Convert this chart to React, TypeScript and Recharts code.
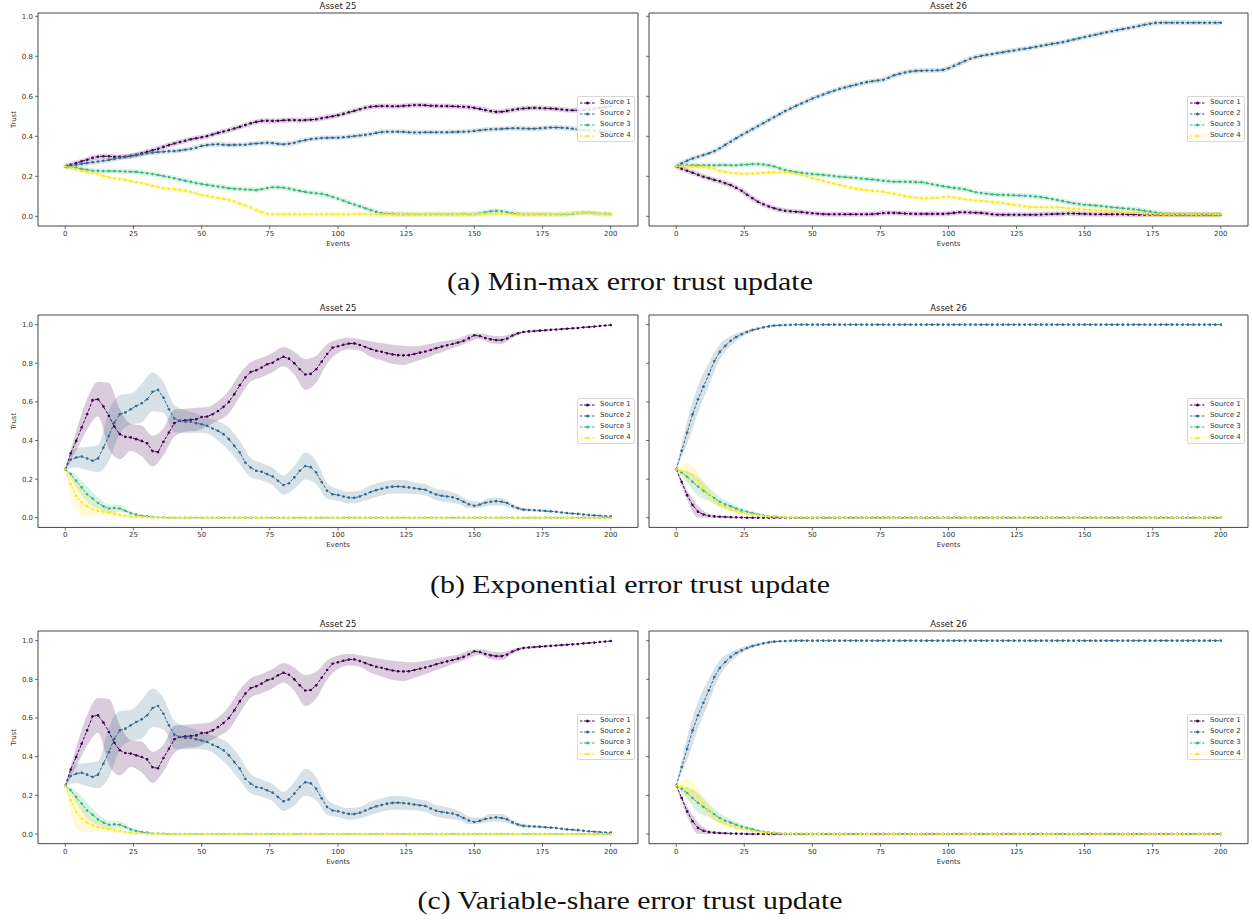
import React from 'react';
import { ComposedChart, Line, Area, XAxis, YAxis, ReferenceArea, Legend } from 'recharts';

const SOURCES = ['Source 1', 'Source 2', 'Source 3', 'Source 4'];
const COLORS = ['#440154', '#31688e', '#35b779', '#fde725'];
const X_TICKS = [0, 25, 50, 75, 100, 125, 150, 175, 200];
const Y_TICKS = [0, 0.2, 0.4, 0.6, 0.8, 1.0];
const STEP = 2; // events between stored line points
const BAND_STEP = 4; // events between stored band half-widths
const CAPTIONS = [
  '(a) Min-max error trust update',
  '(b) Exponential error trust update',
  '(c) Variable-share error trust update',
];

// ---- (a) Min-max, values in thousandths, events 0,2,...,200 ----
const MM_A25_S1 = [
  250, 258, 266, 275, 283, 292, 298, 300, 300, 298,
  297, 298, 302, 308, 315, 322, 330, 338, 347, 356,
  364, 371, 378, 385, 390, 395, 401, 409, 417, 424,
  431, 439, 447, 456, 465, 472, 477, 478, 477, 478,
  480, 481, 481, 480, 481, 483, 485, 490, 495, 500,
  505, 512, 520, 527, 535, 543, 548, 550, 551, 551,
  550, 550, 552, 554, 556, 556, 555, 553, 552, 551,
  551, 550, 549, 548, 546, 542, 537, 531, 526, 522,
  523, 527, 532, 536, 539, 541, 542, 541, 540, 539,
  537, 534, 531, 530, 530, 531, 534, 538, 543, 547,
  550,
];
const MM_A25_S2 = [
  250, 254, 258, 262, 266, 270, 274, 278, 282, 287,
  293, 297, 301, 305, 310, 315, 318, 321, 323, 325,
  326, 329, 333, 337, 343, 352, 356, 359, 360, 358,
  356, 357, 358, 358, 362, 364, 366, 368, 366, 362,
  360, 363, 368, 375, 381, 386, 389, 391, 392, 393,
  393, 395, 398, 401, 404, 407, 411, 417, 421, 423,
  423, 423, 422, 420, 419, 419, 420, 420, 420, 420,
  420, 421, 422, 423, 424, 427, 430, 433, 435, 436,
  437, 439, 440, 440, 439, 438, 438, 440, 442, 444,
  444, 443, 441, 438, 434, 431, 429, 428, 427, 426,
  426,
];
const MM_A25_S3 = [
  250, 246, 242, 237, 233, 228, 227, 226, 226, 226,
  225, 224, 223, 222, 219, 215, 211, 206, 201, 196,
  190, 184, 178, 172, 166, 161, 157, 153, 149, 145,
  140, 138, 136, 134, 133, 131, 135, 141, 145, 145,
  143, 139, 132, 127, 122, 118, 115, 112, 106, 97,
  88, 78, 68, 59, 50, 40, 31, 22, 16, 13,
  12, 11, 10, 10, 10, 10, 10, 10, 10, 10,
  10, 10, 10, 11, 10, 11, 15, 20, 25, 27,
  25, 20, 15, 12, 10, 10, 10, 10, 10, 10,
  10, 10, 11, 13, 16, 18, 18, 16, 13, 12,
  11,
];
const MM_A25_S4 = [
  250, 243, 235, 228, 222, 218, 210, 202, 195, 190,
  186, 181, 176, 170, 165, 160, 153, 146, 141, 138,
  135, 132, 128, 122, 114, 106, 102, 97, 92, 87,
  82, 74, 64, 54, 43, 32, 20, 12, 10, 10,
  10, 10, 10, 10, 10, 10, 10, 10, 10, 10,
  10, 10, 10, 11, 11, 11, 10, 10, 10, 10,
  10, 10, 10, 10, 10, 10, 10, 10, 10, 10,
  10, 10, 10, 10, 11, 12, 12, 12, 12, 12,
  12, 11, 10, 10, 10, 10, 10, 10, 10, 10,
  10, 11, 13, 16, 18, 18, 17, 15, 12, 11,
  10,
];
const MM_A26_S1 = [
  250, 238, 228, 218, 208, 198, 190, 182, 175, 165,
  156, 143, 128, 108, 90, 73, 60, 49, 40, 33,
  28, 25, 23, 21, 18, 15, 13, 11, 10, 10,
  10, 10, 10, 10, 10, 10, 11, 13, 16, 17,
  17, 16, 14, 13, 12, 12, 12, 12, 12, 12,
  14, 17, 20, 20, 19, 18, 17, 14, 10, 8,
  8, 8, 8, 8, 8, 8, 8, 9, 10, 11,
  12, 13, 14, 14, 13, 12, 11, 10, 10, 10,
  10, 10, 10, 9, 9, 8, 8, 8, 8, 8,
  8, 8, 8, 8, 8, 8, 8, 8, 8, 8,
  8,
];
const MM_A26_S2 = [
  250, 265, 278, 289, 298, 306, 315, 326, 340, 357,
  373, 390, 406, 421, 436, 451, 466, 481, 496, 511,
  526, 539, 552, 564, 576, 589, 599, 609, 619, 628,
  637, 644, 651, 658, 665, 671, 675, 679, 683, 693,
  705, 712, 719, 724, 727, 728, 729, 729, 730, 732,
  740, 752, 764, 776, 788, 796, 802, 807, 811, 816,
  820, 825, 829, 834, 838, 842, 847, 852, 857, 862,
  866, 871, 877, 884, 890, 896, 902, 908, 914, 920,
  925, 931, 936, 941, 946, 952, 958, 963, 967, 968,
  968, 968, 968, 968, 968, 968, 968, 968, 968, 968,
  968,
];
const MM_A26_S3 = [
  250, 253, 255, 255, 255, 255, 255, 255, 256, 256,
  255, 255, 257, 259, 261, 261, 259, 255, 249, 240,
  231, 226, 221, 217, 214, 211, 209, 207, 204, 201,
  198, 196, 194, 192, 189, 186, 184, 181, 178, 175,
  173, 173, 173, 172, 171, 170, 166, 160, 155, 150,
  146, 142, 139, 135, 128, 120, 116, 113, 110, 108,
  107, 106, 105, 104, 103, 101, 99, 96, 92, 86,
  81, 76, 70, 65, 61, 58, 56, 54, 51, 48,
  45, 43, 40, 38, 35, 32, 28, 24, 19, 14,
  11, 10, 10, 10, 10, 10, 10, 10, 10, 10,
  10,
];
const MM_A26_S4 = [
  250, 251, 250, 249, 248, 248, 243, 236, 228, 222,
  218, 215, 213, 213, 214, 215, 217, 219, 220, 220,
  220, 218, 213, 208, 200, 190, 184, 177, 170, 163,
  156, 150, 144, 138, 134, 130, 127, 125, 122, 118,
  113, 108, 102, 97, 93, 90, 90, 91, 93, 96,
  98, 94, 89, 84, 81, 79, 77, 75, 72, 69,
  66, 62, 58, 54, 50, 47, 45, 45, 45, 45,
  45, 43, 40, 38, 36, 34, 32, 30, 29, 27,
  26, 24, 21, 19, 17, 15, 13, 11, 10, 10,
  10, 10, 10, 10, 10, 10, 10, 10, 10, 10,
  10,
];

// ---- (b) Exponential, values in thousandths, events 0,2,...,200 ----
const EXP_A25_S1 = [
  250, 334, 398, 467, 536, 609, 614, 576, 528, 472,
  433, 419, 416, 407, 398, 386, 345, 340, 393, 441,
  490, 502, 505, 507, 510, 522, 524, 536, 553, 574,
  600, 640, 686, 726, 755, 764, 778, 795, 803, 821,
  834, 824, 800, 769, 742, 745, 769, 808, 848, 881,
  888, 896, 902, 903, 895, 884, 874, 865, 860, 852,
  846, 842, 841, 842, 848, 855, 861, 869, 878, 886,
  893, 900, 907, 916, 930, 945, 941, 931, 924, 920,
  920, 928, 944, 955, 962, 965, 967, 969, 971, 973,
  975, 977, 979, 981, 983, 986, 988, 990, 993, 996,
  998,
];
const EXP_A25_S2 = [
  250, 300, 312, 317, 307, 295, 307, 364, 424, 493,
  536, 545, 562, 579, 593, 614, 652, 662, 622, 562,
  514, 502, 497, 497, 490, 484, 476, 462, 450, 433,
  407, 372, 338, 286, 260, 243, 238, 226, 214, 191,
  169, 179, 209, 243, 268, 262, 234, 185, 140, 122,
  118, 110, 104, 103, 110, 122, 133, 143, 150, 157,
  161, 162, 160, 157, 153, 149, 145, 132, 120, 114,
  110, 106, 97, 83, 70, 62, 68, 78, 83, 86,
  83, 76, 60, 49, 42, 40, 39, 37, 35, 33,
  31, 27, 24, 22, 20, 17, 14, 12, 10, 8,
  7,
];
const EXP_A25_S3 = [
  250, 226, 191, 157, 122, 100, 76, 59, 48, 50,
  48, 36, 24, 16, 10, 7, 3, 2, 1, 0,
  0, 0, 0, 0, 0, 0, 0, 0, 0, 0,
  0, 0, 0, 0, 0, 0, 0, 0, 0, 0,
  0, 0, 0, 0, 0, 0, 0, 0, 0, 0,
  0, 0, 0, 0, 0, 0, 0, 0, 0, 0,
  0, 0, 0, 0, 0, 0, 0, 0, 0, 0,
  0, 0, 0, 0, 0, 0, 0, 0, 0, 0,
  0, 0, 0, 0, 0, 0, 0, 0, 0, 0,
  0, 0, 0, 0, 0, 0, 0, 0, 0, 0,
  0,
];
const EXP_A25_S4 = [
  250, 174, 114, 79, 59, 45, 36, 31, 26, 21,
  14, 10, 6, 4, 3, 2, 1, 1, 0, 0,
  0, 0, 0, 0, 0, 0, 0, 0, 0, 0,
  0, 0, 0, 0, 0, 0, 0, 0, 0, 0,
  0, 0, 0, 0, 0, 0, 0, 0, 0, 0,
  0, 0, 0, 0, 0, 0, 0, 0, 0, 0,
  0, 0, 0, 0, 0, 0, 0, 0, 0, 0,
  0, 0, 0, 0, 0, 0, 0, 0, 0, 0,
  0, 0, 0, 0, 0, 0, 0, 0, 0, 0,
  0, 0, 0, 0, 0, 0, 0, 0, 0, 0,
  0,
];
// band half-widths, thousandths, events 0,4,...,200
const EXP_A25_B1 = [
  0, 50, 80, 90, 170, 130, 70, 80, 80, 70,
  70, 60, 60, 50, 50, 60, 60, 50, 50, 50,
  50, 60, 80, 70, 50, 35, 30, 30, 40, 45,
  50, 50, 40, 35, 30, 25, 20, 20, 15, 20,
  20, 12, 8, 6, 5, 4, 3, 3, 2, 2,
  2,
];
const EXP_A25_B2 = [
  0, 50, 60, 70, 130, 100, 80, 100, 100, 80,
  70, 60, 50, 40, 50, 60, 60, 50, 45, 45,
  50, 60, 70, 60, 40, 30, 30, 30, 35, 35,
  35, 35, 30, 30, 30, 30, 25, 20, 15, 20,
  20, 12, 8, 6, 5, 4, 3, 3, 2, 2,
  2,
];
const EXP_A25_B3 = [
  0, 30, 40, 30, 20, 18, 10, 6, 3, 2,
  1, 0, 0, 0, 0, 0, 0, 0, 0, 0,
  0, 0, 0, 0, 0, 0, 0, 0, 0, 0,
  0, 0, 0, 0, 0, 0, 0, 0, 0, 0,
  0, 0, 0, 0, 0, 0, 0, 0, 0, 0,
  0,
];
const EXP_A25_B4 = [
  0, 80, 50, 25, 15, 10, 6, 3, 1, 1,
  0, 0, 0, 0, 0, 0, 0, 0, 0, 0,
  0, 0, 0, 0, 0, 0, 0, 0, 0, 0,
  0, 0, 0, 0, 0, 0, 0, 0, 0, 0,
  0, 0, 0, 0, 0, 0, 0, 0, 0, 0,
  0,
];
const EXP_A26_S1 = [
  250, 186, 117, 66, 31, 17, 10, 7, 5, 4,
  3, 2, 1, 0, 0, 0, 0, 0, 0, 0,
  0, 0, 0, 0, 0, 0, 0, 0, 0, 0,
  0, 0, 0, 0, 0, 0, 0, 0, 0, 0,
  0, 0, 0, 0, 0, 0, 0, 0, 0, 0,
  0, 0, 0, 0, 0, 0, 0, 0, 0, 0,
  0, 0, 0, 0, 0, 0, 0, 0, 0, 0,
  0, 0, 0, 0, 0, 0, 0, 0, 0, 0,
  0, 0, 0, 0, 0, 0, 0, 0, 0, 0,
  0, 0, 0, 0, 0, 0, 0, 0, 0, 0,
  0,
];
const EXP_A26_S2 = [
  250, 347, 441, 536, 614, 679, 743, 812, 859, 890,
  916, 936, 950, 962, 972, 979, 986, 991, 995, 997,
  998, 999, 1000, 1000, 1000, 1000, 1000, 1000, 1000, 1000,
  1000, 1000, 1000, 1000, 1000, 1000, 1000, 1000, 1000, 1000,
  1000, 1000, 1000, 1000, 1000, 1000, 1000, 1000, 1000, 1000,
  1000, 1000, 1000, 1000, 1000, 1000, 1000, 1000, 1000, 1000,
  1000, 1000, 1000, 1000, 1000, 1000, 1000, 1000, 1000, 1000,
  1000, 1000, 1000, 1000, 1000, 1000, 1000, 1000, 1000, 1000,
  1000, 1000, 1000, 1000, 1000, 1000, 1000, 1000, 1000, 1000,
  1000, 1000, 1000, 1000, 1000, 1000, 1000, 1000, 1000, 1000,
  1000,
];
const EXP_A26_S3 = [
  250, 234, 212, 186, 162, 140, 122, 102, 83, 69,
  59, 48, 38, 31, 24, 17, 12, 9, 6, 4,
  2, 1, 0, 0, 0, 0, 0, 0, 0, 0,
  0, 0, 0, 0, 0, 0, 0, 0, 0, 0,
  0, 0, 0, 0, 0, 0, 0, 0, 0, 0,
  0, 0, 0, 0, 0, 0, 0, 0, 0, 0,
  0, 0, 0, 0, 0, 0, 0, 0, 0, 0,
  0, 0, 0, 0, 0, 0, 0, 0, 0, 0,
  0, 0, 0, 0, 0, 0, 0, 0, 0, 0,
  0, 0, 0, 0, 0, 0, 0, 0, 0, 0,
  0,
];
const EXP_A26_S4 = [
  250, 243, 234, 221, 191, 157, 122, 91, 67, 53,
  41, 33, 26, 21, 16, 12, 9, 7, 5, 4,
  3, 2, 2, 2, 2, 1, 1, 1, 1, 1,
  1, 0, 0, 0, 0, 0, 0, 0, 0, 0,
  0, 0, 0, 0, 0, 0, 0, 0, 0, 0,
  0, 0, 0, 0, 0, 0, 0, 0, 0, 0,
  0, 0, 0, 0, 0, 0, 0, 0, 0, 0,
  0, 0, 0, 0, 0, 0, 0, 0, 0, 0,
  0, 0, 0, 0, 0, 0, 0, 0, 0, 0,
  0, 0, 0, 0, 0, 0, 0, 0, 0, 0,
  0,
];
const EXP_A26_B1 = [
  0, 25, 30, 10, 5, 2, 1, 0, 0, 0,
  0, 0, 0, 0, 0, 0, 0, 0, 0, 0,
  0, 0, 0, 0, 0, 0, 0, 0, 0, 0,
  0, 0, 0, 0, 0, 0, 0, 0, 0, 0,
  0, 0, 0, 0, 0, 0, 0, 0, 0, 0,
  0,
];
const EXP_A26_B2 = [
  0, 60, 70, 60, 40, 25, 15, 10, 6, 4,
  2, 0, 0, 0, 0, 0, 0, 0, 0, 0,
  0, 0, 0, 0, 0, 0, 0, 0, 0, 0,
  0, 0, 0, 0, 0, 0, 0, 0, 0, 0,
  0, 0, 0, 0, 0, 0, 0, 0, 0, 0,
  0,
];
const EXP_A26_B3 = [
  0, 30, 50, 35, 25, 18, 12, 8, 5, 3,
  2, 0, 0, 0, 0, 0, 0, 0, 0, 0,
  0, 0, 0, 0, 0, 0, 0, 0, 0, 0,
  0, 0, 0, 0, 0, 0, 0, 0, 0, 0,
  0, 0, 0, 0, 0, 0, 0, 0, 0, 0,
  0,
];
const EXP_A26_B4 = [
  0, 50, 40, 30, 15, 10, 6, 4, 3, 2,
  1, 1, 0, 0, 0, 0, 0, 0, 0, 0,
  0, 0, 0, 0, 0, 0, 0, 0, 0, 0,
  0, 0, 0, 0, 0, 0, 0, 0, 0, 0,
  0, 0, 0, 0, 0, 0, 0, 0, 0, 0,
  0,
];

// ---- (c) Variable-share: read as identical to (b) ----
const VS_A25_S = [EXP_A25_S1, EXP_A25_S2, EXP_A25_S3, EXP_A25_S4];
const VS_A25_B = [EXP_A25_B1, EXP_A25_B2, EXP_A25_B3, EXP_A25_B4];
const VS_A26_S = [EXP_A26_S1, EXP_A26_S2, EXP_A26_S3, EXP_A26_S4];
const VS_A26_B = [EXP_A26_B1, EXP_A26_B2, EXP_A26_B3, EXP_A26_B4];

const FONT = 'DejaVu Sans';
const TEXT = '#333';
const FRAME = '#444';

function buildRows(series: number[][], bands?: number[][]) {
  const n = series[0].length;
  const rows: any[] = [];
  for (let i = 0; i < n; i++) {
    const e = i * STEP;
    const row: any = { e };
    series.forEach((s, k) => {
      row['s' + k] = s[i] / 1000;
    });
    if (bands && e % BAND_STEP === 0) {
      const j = e / BAND_STEP;
      bands.forEach((b, k) => {
        const m = series[k][i] / 1000;
        const h = b[j] / 1000;
        row['b' + k] = [Math.max(0, m - h), Math.min(1, m + h)];
      });
    }
    rows.push(row);
  }
  return rows;
}

function LegendBox() {
  return (
    <div
      style={{
        boxSizing: 'border-box',
        width: 58,
        height: 46,
        border: '1px solid #d8d8d8',
        borderRadius: 2,
        background: 'rgba(255,255,255,0.85)',
        padding: '0.5px 0 0 2px',
        fontFamily: FONT,
        fontSize: 7,
        color: TEXT,
      }}
    >
      {SOURCES.map((s, k) => (
        <div key={s} style={{ display: 'flex', alignItems: 'center', height: 11, lineHeight: '11px' }}>
          <svg width={15} height={6} style={{ marginRight: 5, display: 'block' }}>
            <line x1={0} y1={3} x2={15} y2={3} stroke={COLORS[k]} strokeWidth={1} strokeDasharray="2.5 1.5" />
            <circle cx={7.5} cy={3} r={1.5} fill={COLORS[k]} />
          </svg>
          <span style={{ whiteSpace: 'nowrap' }}>{s}</span>
        </div>
      ))}
    </div>
  );
}

type PanelProps = {
  frameLeft: number;
  frameTop: number;
  plotW: number;
  plotH: number;
  yDomain: [number, number];
  title: string;
  rows: any[];
  bands: boolean;
  showY: boolean;
};

function Panel({ frameLeft, frameTop, plotW, plotH, yDomain, title, rows, bands, showY }: PanelProps) {
  const mt = 12;
  const hX = 24;
  const wY = showY ? 38 : 10;
  const mr = 2;
  const W = wY + plotW + mr;
  const H = mt + plotH + hX;
  const tickStyle = { fontSize: 7, fill: TEXT, fontFamily: FONT };
  return (
    <div style={{ position: 'absolute', left: frameLeft - wY, top: frameTop - mt }}>
      <ComposedChart width={W} height={H} data={rows} margin={{ top: mt, right: mr, bottom: 0, left: 0 }}>
        <XAxis
          dataKey="e"
          type="number"
          domain={[-10, 210]}
          ticks={X_TICKS}
          interval={0}
          allowDataOverflow
          axisLine={false}
          tickLine={{ stroke: FRAME, strokeWidth: 0.8 }}
          tickSize={3}
          tickMargin={2}
          height={hX}
          tick={tickStyle}
          label={{ value: 'Events', position: 'insideBottom', offset: 4, fontSize: 7, fill: TEXT, fontFamily: FONT }}
        />
        <YAxis
          type="number"
          domain={yDomain}
          ticks={Y_TICKS}
          interval={0}
          allowDataOverflow
          axisLine={false}
          tickLine={{ stroke: FRAME, strokeWidth: 0.8 }}
          tickSize={3}
          tickMargin={2}
          width={wY}
          tick={tickStyle}
          tickFormatter={(v: number) => (showY ? v.toFixed(1) : '')}
          label={
            showY
              ? {
                  value: 'Trust',
                  angle: -90,
                  position: 'insideLeft',
                  offset: 14,
                  fontSize: 7,
                  fill: TEXT,
                  fontFamily: FONT,
                  style: { textAnchor: 'middle' },
                }
              : undefined
          }
        />
        {bands &&
          COLORS.map((c, k) => (
            <Area
              key={'b' + k}
              dataKey={'b' + k}
              type="monotone"
              fill={c}
              fillOpacity={0.2}
              stroke="none"
              connectNulls
              dot={false}
              activeDot={false}
              legendType="none"
              isAnimationActive={false}
            />
          ))}
        {!bands &&
          COLORS.map((c, k) => (
            <Line
              key={'h' + k}
              dataKey={'s' + k}
              type="linear"
              stroke={c}
              strokeOpacity={0.18}
              strokeWidth={5}
              dot={false}
              activeDot={false}
              legendType="none"
              isAnimationActive={false}
            />
          ))}
        {COLORS.map((c, k) => (
          <Line
            key={'s' + k}
            dataKey={'s' + k}
            name={SOURCES[k]}
            type="linear"
            stroke={c}
            strokeWidth={1}
            strokeDasharray="3 1.5"
            dot={{ r: 1.3, fill: c, stroke: 'none', strokeWidth: 0 }}
            activeDot={false}
            isAnimationActive={false}
          />
        ))}
        <ReferenceArea
          x1={-10}
          x2={210}
          y1={yDomain[0]}
          y2={yDomain[1]}
          fill="none"
          stroke={FRAME}
          strokeWidth={1}
          ifOverflow="visible"
          label={{ value: title, position: 'top', offset: 4.5, fontSize: 8.5, fill: '#222', fontFamily: FONT }}
        />
        <Legend
          layout="vertical"
          align="center"
          verticalAlign="middle"
          content={() => <LegendBox />}
          wrapperStyle={{ left: wY + plotW - 61, top: mt + plotH / 2 - 23.5, width: 58, height: 46 }}
        />
      </ComposedChart>
    </div>
  );
}

const Y_DOMAIN_A: [number, number] = [-0.0484, 1.0165];
const Y_DOMAIN_B: [number, number] = [-0.05, 1.05];

export default function App() {
  const mm25 = buildRows([MM_A25_S1, MM_A25_S2, MM_A25_S3, MM_A25_S4]);
  const mm26 = buildRows([MM_A26_S1, MM_A26_S2, MM_A26_S3, MM_A26_S4]);
  const exp25 = buildRows(
    [EXP_A25_S1, EXP_A25_S2, EXP_A25_S3, EXP_A25_S4],
    [EXP_A25_B1, EXP_A25_B2, EXP_A25_B3, EXP_A25_B4]
  );
  const exp26 = buildRows(
    [EXP_A26_S1, EXP_A26_S2, EXP_A26_S3, EXP_A26_S4],
    [EXP_A26_B1, EXP_A26_B2, EXP_A26_B3, EXP_A26_B4]
  );
  const vs25 = buildRows(VS_A25_S, VS_A25_B);
  const vs26 = buildRows(VS_A26_S, VS_A26_B);

  const rowsSpec = [
    { top: 12.7, h: 213, dom: Y_DOMAIN_A, l: mm25, r: mm26, bands: false },
    { top: 315.3, h: 212.4, dom: Y_DOMAIN_B, l: exp25, r: exp26, bands: true },
    { top: 631, h: 212.7, dom: Y_DOMAIN_B, l: vs25, r: vs26, bands: true },
  ];
  const capY = [290, 593, 909];
  const capW = [366, 400, 425];

  return (
    <div style={{ position: 'absolute', left: 0, top: 0, width: 1252, height: 921, background: '#fff', fontFamily: FONT }}>
      {rowsSpec.map((r, i) => (
        <React.Fragment key={i}>
          <Panel frameLeft={38} frameTop={r.top} plotW={600} plotH={r.h} yDomain={r.dom} title="Asset 25" rows={r.l} bands={r.bands} showY />
          <Panel frameLeft={649} frameTop={r.top} plotW={599} plotH={r.h} yDomain={r.dom} title="Asset 26" rows={r.r} bands={r.bands} showY={false} />
        </React.Fragment>
      ))}
      <svg width={1252} height={921} style={{ position: 'absolute', left: 0, top: 0, pointerEvents: 'none' }}>
        {CAPTIONS.map((c, i) => (
          <text
            key={c}
            x={630}
            y={capY[i]}
            textAnchor="middle"
            fontFamily="'Liberation Serif', serif"
            fontSize={26}
            fill="#111"
            textLength={capW[i]}
            lengthAdjust="spacingAndGlyphs"
          >
            {c}
          </text>
        ))}
      </svg>
    </div>
  );
}
